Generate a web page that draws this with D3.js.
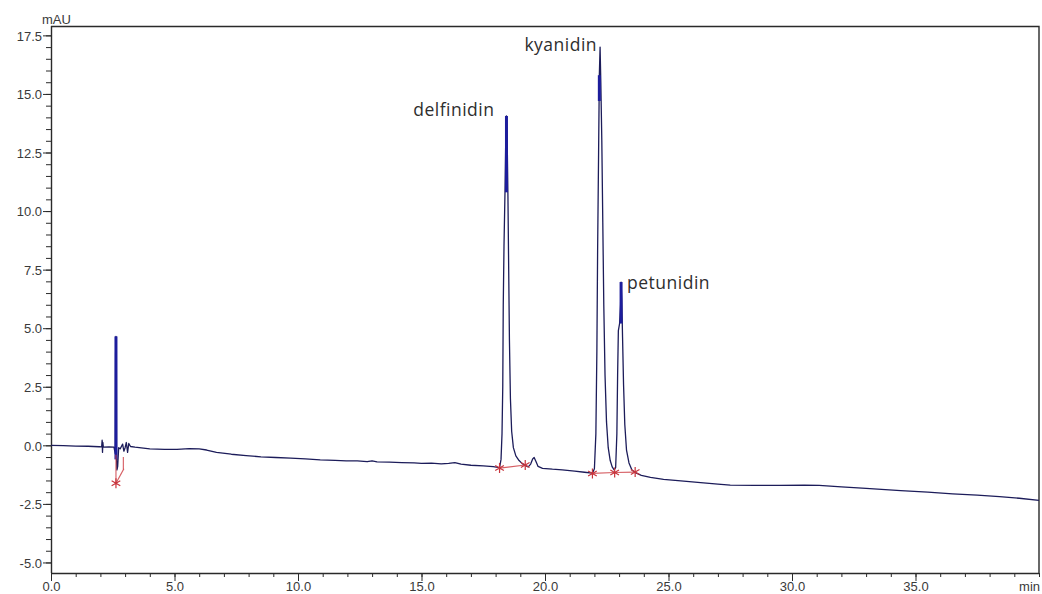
<!DOCTYPE html>
<html>
<head>
<meta charset="utf-8">
<script src="https://cdn.jsdelivr.net/npm/d3@7"></script>
<style>
  html, body { margin: 0; padding: 0; background: #fff; }
  svg { display: block; }
  .tick text { font-family: "Liberation Sans", Arial, sans-serif; font-size: 13px; fill: #3a3a3a; }
</style>
</head>
<body>
<svg id="chart" width="1042" height="594"></svg>
<script>
// Chromatogram trace: [retention time (min), absorbance (mAU)]
const trace = [
  [0.00, 0.00], [0.50, -0.01], [1.00, -0.03], [1.50, -0.04], [1.95, -0.06],
  [2.05, -0.07], [2.07, 0.22], [2.085, -0.30], [2.10, 0.12], [2.12, -0.08],
  [2.35, -0.07], [2.55, -0.08], [2.60, -0.35], [2.615, 3.9], [2.63, 4.65],
  [2.645, 4.55], [2.655, -0.6], [2.67, -1.05], [2.70, -0.9], [2.74, -0.10],
  [2.80, -0.15], [2.85, -0.05], [2.90, 0.05], [2.95, -0.25], [3.00, -0.10],
  [3.05, 0.12], [3.10, -0.30], [3.15, 0.08], [3.22, -0.05], [3.40, -0.08],
  [4.00, -0.15], [4.60, -0.17], [5.10, -0.17], [5.60, -0.14], [6.00, -0.15],
  [6.30, -0.20], [6.70, -0.30], [7.30, -0.38], [7.90, -0.44], [8.50, -0.49],
  [9.10, -0.52], [9.70, -0.55], [10.30, -0.58], [10.90, -0.62], [11.50, -0.64],
  [11.95, -0.66], [12.40, -0.66], [12.80, -0.70], [13.00, -0.66], [13.20, -0.71],
  [13.70, -0.72], [14.20, -0.74], [14.70, -0.75], [15.00, -0.77], [15.40, -0.76],
  [15.80, -0.79], [16.10, -0.77], [16.35, -0.74], [16.60, -0.80], [17.00, -0.85],
  [17.50, -0.88], [17.90, -0.91], [18.16, -0.95],
  // delfinidin
  [18.22, -0.60], [18.26, 0.50], [18.29, 2.50], [18.31, 6.00], [18.34, 8.50],
  [18.38, 10.8], [18.41, 13.0], [18.44, 14.06], [18.47, 13.0], [18.50, 10.6],
  [18.53, 7.5], [18.56, 4.5], [18.60, 2.0], [18.65, 0.6], [18.72, -0.1],
  [18.82, -0.45], [18.95, -0.65], [19.08, -0.78], [19.20, -0.86], [19.32, -0.92],
  [19.42, -0.80], [19.50, -0.58], [19.56, -0.52], [19.63, -0.68], [19.72, -0.90],
  [19.90, -0.98], [20.30, -1.02], [20.70, -1.05], [21.20, -1.10], [21.60, -1.15],
  [21.92, -1.19],
  // kyanidin
  [22.00, -1.0], [22.06, 0.5], [22.10, 4.0], [22.13, 8.3], [22.17, 12.5],
  [22.20, 15.8], [22.23, 17.0], [22.26, 15.5], [22.30, 13.0], [22.34, 9.5],
  [22.38, 6.0], [22.43, 3.0], [22.49, 1.0], [22.56, -0.1], [22.64, -0.65],
  [22.72, -0.92], [22.80, -1.05],
  // petunidin
  [22.86, -0.95], [22.91, 0.5], [22.94, 3.0], [22.97, 4.9], [23.02, 5.2],
  [23.06, 6.0], [23.08, 6.97], [23.11, 6.2], [23.14, 4.6], [23.18, 2.6],
  [23.23, 0.9], [23.30, -0.2], [23.40, -0.75], [23.52, -1.05], [23.68, -1.18],
  [23.90, -1.28], [24.27, -1.37], [24.80, -1.45], [25.50, -1.52], [26.30, -1.59],
  [27.00, -1.66], [27.50, -1.70], [28.50, -1.71], [29.50, -1.71], [30.50, -1.70],
  [31.10, -1.71], [32.00, -1.77], [33.00, -1.84], [34.40, -1.93], [35.50, -2.00],
  [36.50, -2.07], [37.50, -2.13], [38.40, -2.19], [39.20, -2.26], [40.00, -2.35]
];

// Named peaks with apex time and height
const peakNames = ["delfinidin", "kyanidin", "petunidin"];
const peakTimes = [18.44, 22.23, 23.08];
const peakHeights = [14.06, 17.0, 6.97];

// Apex segments drawn heavier: [time, upper value, lower value]
const apexSpans = [
  [2.63, 4.65, -0.6],
  [18.44, 14.06, 10.8],
  [22.20, 15.8, 14.7],
  [23.08, 6.97, 5.2]
];

// Integration baselines: [t start, v start, t end, v end]
const integrationBaselines = [
  [2.63, -1.62, 2.95, -1.00],
  [18.16, -0.97, 19.20, -0.84],
  [21.92, -1.20, 22.82, -1.16],
  [22.82, -1.16, 23.65, -1.14]
];
// Drop lines at the solvent front: [time, top value, bottom value]
const dropLines = [
  [2.63, -0.40, -1.62],
  [2.93, -0.50, -1.02]
];
// Peak start/end markers: [time, value]
const markers = [
  [2.63, -1.62], [18.16, -0.97], [19.20, -0.84],
  [21.92, -1.20], [22.82, -1.16], [23.65, -1.14]
];

// Axis ticks
const xMajorTicks = [0, 5, 10, 15, 20, 25, 30, 35];
const xTickLabels = ["0.0", "5.0", "10.0", "15.0", "20.0", "25.0", "30.0", "35.0"];
const yMajorTicks = [-5, -2.5, 0, 2.5, 5, 7.5, 10, 12.5, 15, 17.5];
const yTickLabels = ["-5.0", "-2.5", "0.0", "2.5", "5.0", "7.5", "10.0", "12.5", "15.0", "17.5"];
const xUnit = "min";
const yUnit = "mAU";

const svg = d3.select("#chart");
const plotLeft = 51, plotRight = 1039, plotTop = 26, plotBottom = 573;

const x = d3.scaleLinear().domain([0, 40]).range([plotLeft, plotRight]);
const y = d3.scaleLinear().domain([-5.45, 17.9]).range([plotBottom, plotTop]);

// Frame (top and right sides)
svg.append("path")
  .attr("d", `M${plotLeft},${plotTop + 0.5}H${plotRight}V${plotBottom}`)
  .attr("fill", "none").attr("stroke", "#2a2a2a").attr("stroke-width", 1.4);

// Y axis: minor then major ticks
svg.append("g").attr("transform", `translate(${plotLeft},0)`)
  .call(d3.axisLeft(y).tickValues(d3.range(-5, 17.51, 0.5)).tickSize(5).tickFormat(""))
  .call(g => g.select(".domain").remove())
  .selectAll("line").attr("stroke", "#2a2a2a");
svg.append("g").attr("transform", `translate(${plotLeft},0)`)
  .call(d3.axisLeft(y).tickValues(yMajorTicks).tickSize(8).tickPadding(1)
    .tickFormat((d, i) => yTickLabels[i]))
  .call(g => g.select(".domain").attr("d", `M0.5,${plotTop}V${plotBottom}`).attr("stroke", "#2a2a2a").attr("stroke-width", 1.4))
  .call(g => g.selectAll("line").attr("stroke", "#2a2a2a"))
  .call(g => g.selectAll("text").attr("dy", "0.36em"));

// X axis: minor then major ticks
svg.append("g").attr("transform", `translate(0,${plotBottom})`)
  .call(d3.axisBottom(x).tickValues(d3.range(0, 40.01, 1)).tickSize(4).tickFormat(""))
  .call(g => g.select(".domain").remove())
  .selectAll("line").attr("stroke", "#2a2a2a");
svg.append("g").attr("transform", `translate(0,${plotBottom})`)
  .call(d3.axisBottom(x).tickValues(xMajorTicks).tickSize(8).tickPadding(1)
    .tickFormat((d, i) => xTickLabels[i]))
  .call(g => g.select(".domain").attr("d", `M${plotLeft},0.5H${plotRight}`).attr("stroke", "#2a2a2a").attr("stroke-width", 1.4))
  .call(g => g.selectAll("line").attr("stroke", "#2a2a2a"))
  .call(g => g.selectAll("text").attr("dy", "0.68em"));

// Axis units
svg.append("text").attr("x", x(40) + 1).attr("y", 590.5)
  .attr("text-anchor", "end")
  .attr("font-family", "Liberation Sans, Arial, sans-serif").attr("font-size", 13).attr("fill", "#3a3a3a")
  .text(xUnit);
svg.append("text").attr("x", 42).attr("y", 24)
  .attr("font-family", "Liberation Sans, Arial, sans-serif").attr("font-size", 13).attr("fill", "#3a3a3a")
  .text(yUnit);

// Signal trace
const line = d3.line().x(d => x(d[0])).y(d => y(d[1]));
svg.append("path").datum(trace)
  .attr("d", line)
  .attr("fill", "none").attr("stroke", "#1c1c5a").attr("stroke-width", 1.3)
  .attr("stroke-linejoin", "round");

// Heavier apex segments
svg.append("g").selectAll("line").data(apexSpans).join("line")
  .attr("x1", d => x(d[0])).attr("x2", d => x(d[0]))
  .attr("y1", d => y(d[1])).attr("y2", d => y(d[2]))
  .attr("stroke", "#1d1d9c").attr("stroke-width", 3);

// Integration baselines, drop lines and markers
const red = "#d0444a";
svg.append("g").selectAll("line").data(integrationBaselines).join("line")
  .attr("x1", d => x(d[0])).attr("y1", d => y(d[1]))
  .attr("x2", d => x(d[2])).attr("y2", d => y(d[3]))
  .attr("stroke", red).attr("stroke-width", 1.2).attr("opacity", 0.85);
svg.append("g").selectAll("line").data(dropLines).join("line")
  .attr("x1", d => x(d[0])).attr("x2", d => x(d[0]))
  .attr("y1", d => y(d[1])).attr("y2", d => y(d[2]))
  .attr("stroke", red).attr("stroke-width", 1.2).attr("opacity", 0.8);
const star = d3.symbol().type(d3.symbolAsterisk || d3.symbolCross).size(70);
svg.append("g").selectAll("path").data(markers).join("path")
  .attr("transform", d => `translate(${x(d[0])},${y(d[1])})`)
  .attr("d", star)
  .attr("fill", "none").attr("stroke", "#c8343c").attr("stroke-width", 1.2);

// Peak labels
const labelStyle = [
  { anchor: "end", dx: -12, dy: 0 },
  { anchor: "end", dx: -3, dy: 4 },
  { anchor: "start", dx: 6, dy: 7 }
];
svg.append("g").selectAll("text").data(peakNames).join("text")
  .attr("x", (d, i) => x(peakTimes[i]) + labelStyle[i].dx)
  .attr("y", (d, i) => y(peakHeights[i]) + labelStyle[i].dy)
  .attr("text-anchor", (d, i) => labelStyle[i].anchor)
  .attr("font-family", "Open Sans, sans-serif").attr("font-size", 17.5)
  .attr("letter-spacing", 0.5).attr("fill", "#2e2e2e")
  .text(d => d);
</script>
</body>
</html>
